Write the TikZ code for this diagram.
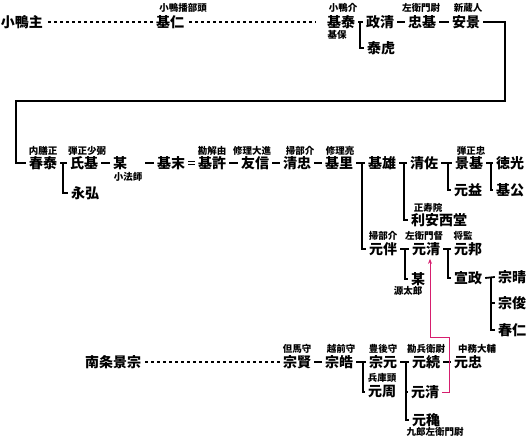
\documentclass[tikz,border=0pt]{standalone}
\usepackage{fontspec}
\setmainfont{Noto Sans CJK JP}
\usetikzlibrary{arrows.meta}

\definecolor{notepink}{RGB}{214,30,110}

\begin{document}
\begin{tikzpicture}[x=1pt, y=-1pt,
    person/.style={font=\bfseries\fontsize{14}{14}\selectfont, inner sep=3pt},
    title/.style={font=\bfseries\fontsize{9.5}{9.5}\selectfont, inner sep=0pt},
    link/.style={line width=1.8pt},
    dotline/.style={line width=1.6pt, dash pattern=on 3pt off 3pt},
    remark/.style={line width=1pt, notepink}]
    \useasboundingbox (0,0) rectangle (529,447);

    \node[person] (komonushi) at (22,22) {小鴨主};
    \node[person] (motohito) at (170,22) {基仁};
    \node[person] (motoyasu) at (341,22) {基泰};
    \node[person] (masakiyo) at (380,22) {政清};
    \node[person] (tadamoto) at (422,22) {忠基};
    \node[person] (yasukage) at (466,22) {安景};
    \node[person] (yasutora) at (381,48) {泰虎};

    \node[title] (motohito-t) at (183,8) {小鴨播部頭};
    \node[title] (motoyasu-t) at (343,8) {小鴨介};
    \node[title] (motoyasu-b) at (337,35) {基保};
    \node[title] (tadamoto-t) at (421,8) {左衛門尉};
    \node[title] (yasukage-t) at (468,8) {新蔵人};

    \node[person] (haruyasu) at (43,163) {春泰};
    \node[person] (ujimoto) at (84,163) {氏基};
    \node[person] (nagahiro) at (85,193) {永弘};
    \node[person] (nanigashi) at (120,163) {某};
    \node[person] (motosue) at (171,163) {基末};
    \node[person] (motomoto) at (212,163) {基許};
    \node[person] (tomonobu) at (255,163) {友信};
    \node[person] (kiyotada) at (297,163) {清忠};
    \node[person] (motosato) at (339,163) {基里};
    \node[person] (motoo) at (382,163) {基雄};
    \node[person] (kiyosuke) at (424,163) {清佐};
    \node[person] (kagemoto) at (469,163) {景基};
    \node[person] (norimitsu) at (510,163) {徳光};
    \node[person] (motomasu) at (468,190) {元益};
    \node[person] (motokimi) at (510,190) {基公};
    \node[person] (toshiyasu) at (439,220) {利安西堂};

    \node[title] (haruyasu-t) at (43,151) {内膳正};
    \node[title] (ujimoto-t) at (87,151) {弾正少弼};
    \node[title] (nanigashi-b) at (128,177) {小法師};
    \node[title] (motomoto-t) at (212,151) {勘解由};
    \node[title] (tomonobu-t) at (252,151) {修理大進};
    \node[title] (kiyotada-t) at (300,151) {掃部介};
    \node[title] (motosato-t) at (340,151) {修理亮};
    \node[title] (kagemoto-t) at (471,151) {弾正忠};
    \node[title] (toshiyasu-t) at (428,208) {正寿院};

    \node[person] (motosuke) at (383,249) {元伴};
    \node[person] (motokiyo) at (426,249) {元清};
    \node[person] (motokuni) at (468,249) {元邦};
    \node[person] (nanigashiB) at (418,279) {某};
    \node[person] (nobumasa) at (468,278) {宣政};
    \node[person] (muneharu) at (512,277) {宗晴};
    \node[person] (munetoshi) at (512,303) {宗俊};
    \node[person] (haruhito) at (512,330) {春仁};

    \node[title] (motosuke-t) at (383,236) {掃部介};
    \node[title] (motokiyo-t) at (424,236) {左衛門督};
    \node[title] (motokuni-t) at (463,236) {将監};
    \node[title] (nanigashiB-b) at (408,291) {源太郎};

    \node[person] (kagemune) at (113,362) {南条景宗};
    \node[person] (munekata) at (297,362) {宗賢};
    \node[person] (munehiro) at (339,362) {宗皓};
    \node[person] (munemoto) at (383,362) {宗元};
    \node[person] (motochika) at (382,392) {元周};
    \node[person] (mototsugu) at (426,362) {元続};
    \node[person] (mototada) at (468,362) {元忠};
    \node[person] (motokiyoB) at (425,392) {元清};
    \node[person] (motoaki) at (426,420) {元穐};

    \node[title] (munekata-t) at (297,349) {但馬守};
    \node[title] (munehiro-t) at (341,349) {越前守};
    \node[title] (munemoto-t) at (383,349) {豊後守};
    \node[title] (motochika-t) at (382,378) {兵庫頭};
    \node[title] (mototsugu-t) at (426,349) {勘兵衛尉};
    \node[title] (mototada-t) at (477,349) {中務大輔};
    \node[title] (motoaki-b) at (435,432) {九郎左衛門尉};

    \draw[dotline, shorten <=2pt] (komonushi.east) -- (motohito.west);
    \draw[dotline, shorten <=2pt, shorten >=8pt] (motohito.east) -- (motoyasu.west);
    \draw[dotline, shorten <=1pt] (kagemune.east) -- (munekata.west);

    \draw[link] (motoyasu.east) -- (masakiyo.west);
    \draw[link] ([xshift=-3pt]masakiyo.west) |- (yasutora.west);
    \draw[link] (masakiyo.east) -- (tadamoto.west);
    \draw[link] (tadamoto.east) -- (yasukage.west);

    \coordinate (bendR) at (505,101);
    \coordinate (bendL) at (16,101);
    \draw[link] (yasukage.east) -| (bendR) -- (bendL) |- (haruyasu.west);

    \draw[link] (haruyasu.east) -- (ujimoto.west);
    \draw[link] ([xshift=-4pt]ujimoto.west) |- (nagahiro.west);
    \draw[link] (ujimoto.east) -- (nanigashi.west);
    \draw[link] (motosue.west) -- ++(-8.5,0);
    \draw[line width=1.2pt, double distance=2.2pt] (motosue.east) -- (motomoto.west);
    \draw[link] (motomoto.east) -- (tomonobu.west);
    \draw[link] (tomonobu.east) -- (kiyotada.west);
    \draw[link] (kiyotada.east) -- (motosato.west);
    \draw[link] (motosato.east) -- (motoo.west);
    \draw[link] ([xshift=-3pt]motoo.west) |- (motosuke.west);
    \draw[link] (motoo.east) -- (kiyosuke.west);
    \draw[link] ([xshift=-3pt]kiyosuke.west) |- (toshiyasu.west);
    \draw[link] (kiyosuke.east) -- (kagemoto.west);
    \draw[link] ([xshift=-4pt]kagemoto.west) |- (motomasu.west);
    \draw[link] (kagemoto.east) -- (norimitsu.west);
    \draw[link] ([xshift=-2pt]norimitsu.west) |- (motokimi.west);

    \draw[link] (motosuke.east) -- (motokiyo.west);
    \draw[link] ([xshift=-4pt]motokiyo.west) |- (nanigashiB.west);
    \draw[link] (motokiyo.east) -- (motokuni.west);
    \draw[link] ([xshift=-3pt]motokuni.west) |- (nobumasa.west);
    \draw[link] (nobumasa.east) -- (muneharu.west);
    \coordinate (forkM) at ([xshift=-4pt]muneharu.west);
    \draw[link] (forkM) |- (haruhito.west);
    \draw[link] (forkM |- munetoshi.west) -- (munetoshi.west);

    \draw[link] (munekata.east) -- (munehiro.west);
    \draw[link] (munehiro.east) -- (munemoto.west);
    \draw[link] ([xshift=-3pt]munemoto.west) |- (motochika.west);
    \draw[link] (munemoto.east) -- (mototsugu.west);
    \coordinate (forkT) at ([xshift=-3pt]mototsugu.west);
    \draw[link] (forkT) |- (motoaki.west);
    \draw[link] (forkT |- motokiyoB.west) -- (motokiyoB.west);
    \draw[link] (mototsugu.east) -- (mototada.west);

    \coordinate (kink) at (449,337);
    \draw[remark, -{Stealth[length=5pt, width=4pt]}]
        (motokiyoB.east) -| (kink) -| ([xshift=4pt]motokiyo.south);
\end{tikzpicture}
\end{document}
